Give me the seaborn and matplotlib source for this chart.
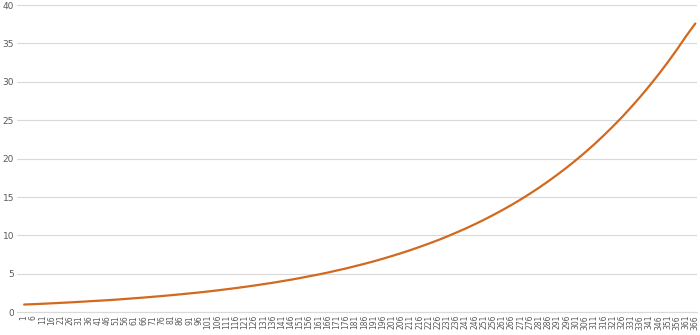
import matplotlib
matplotlib.use("Agg")
import matplotlib.pyplot as plt
import seaborn as sns
import pandas as pd

# Day numbers (every 5th day shown on axis) and values
days = list(range(1, 367, 5))
values = [1.00, 1.05, 1.10, 1.16, 1.22, 1.28, 1.35, 1.42, 1.49, 1.56,
          1.64, 1.73, 1.82, 1.91, 2.01, 2.11, 2.22, 2.33, 2.45, 2.57,
          2.70, 2.84, 2.99, 3.14, 3.30, 3.47, 3.65, 3.83, 4.03, 4.23,
          4.45, 4.68, 4.91, 5.16, 5.43, 5.70, 6.00, 6.30, 6.62, 6.96,
          7.32, 7.69, 8.08, 8.50, 8.93, 9.38, 9.86, 10.37, 10.89, 11.45,
          12.03, 12.65, 13.29, 13.97, 14.68, 15.43, 16.22, 17.05, 17.92, 18.83,
          19.79, 20.80, 21.86, 22.98, 24.15, 25.38, 26.68, 28.04, 29.47, 30.97,
          32.55, 34.21, 35.96, 37.60]
tick_labels = [str(d) for d in days]
y_ticks = [0, 5, 10, 15, 20, 25, 30, 35, 40]

df = pd.DataFrame({"day": days, "value": values})

sns.set_theme(style="white")
plt.rcParams['font.family'] = ['DejaVu Sans']

fig = plt.figure(figsize=(7.0, 3.35), dpi=100)
ax = fig.add_axes([0.024, 0.068, 0.972, 0.917])

sns.lineplot(data=df, x="day", y="value", ax=ax, color="#D2691E", linewidth=1.6)

ax.set_xlim(-3, 367)
ax.set_ylim(0, 40)
ax.set_yticks(y_ticks)
ax.set_yticklabels([str(t) for t in y_ticks], fontsize=6.5, color="#595959")
ax.set_xticks(days)
ax.set_xticklabels(tick_labels, rotation=90, fontsize=5.5, color="#595959")
ax.tick_params(axis="both", length=0, pad=2)
ax.yaxis.grid(True, color="#D9D9D9", linewidth=0.8)
ax.set_axisbelow(True)
for s in ["top", "right", "left"]:
    ax.spines[s].set_visible(False)
ax.spines["bottom"].set_color("#D9D9D9")
ax.spines["bottom"].set_linewidth(0.8)
ax.set_xlabel("")
ax.set_ylabel("")

fig.savefig("out.png", dpi=100)
